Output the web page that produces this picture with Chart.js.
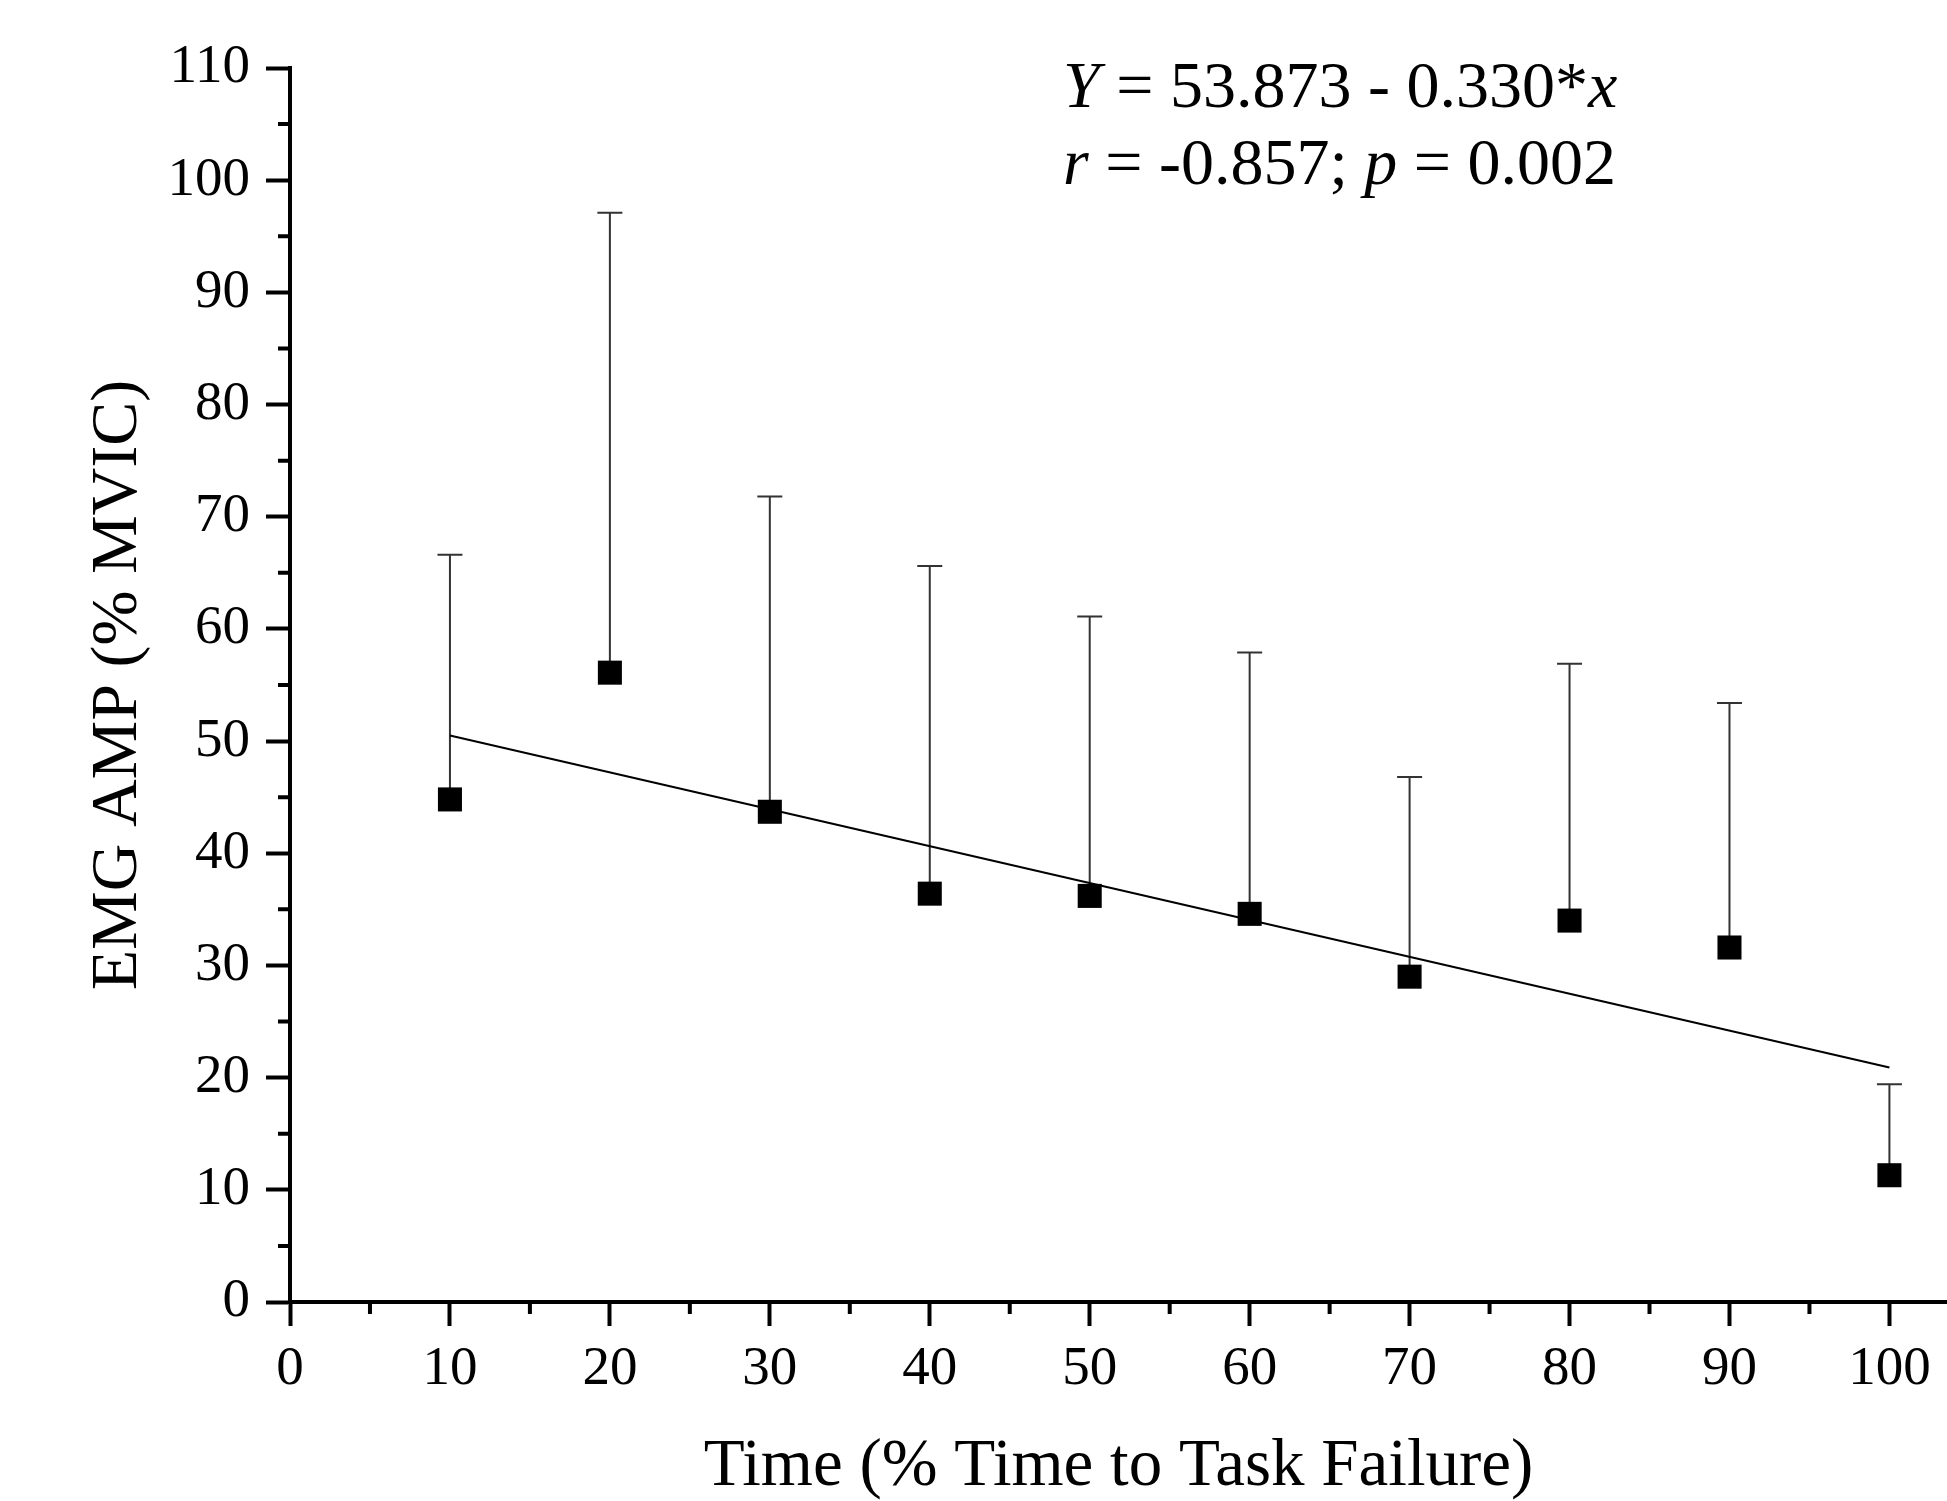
<!DOCTYPE html>
<html>
<head>
<meta charset="utf-8">
<script src="https://cdn.jsdelivr.net/npm/chart.js@4.4.1/dist/chart.umd.min.js"></script>
<style>
  html, body { margin: 0; padding: 0; background: #ffffff; overflow: hidden; }
  #wrap { width: 1947px; height: 1501px; overflow: hidden; }
  canvas { display: block; }
</style>
</head>
<body>
<div id="wrap"><canvas id="c" width="1964" height="1501"></canvas></div>
<script>
// ---- data ----
const timePoints   = [10, 20, 30, 40, 50, 60, 70, 80, 90, 100];
const emgMean      = [44.8, 56.1, 43.7, 36.4, 36.2, 34.6, 29.0, 34.0, 31.6, 11.3];
const emgUpperSD   = [66.6, 97.1, 71.8, 65.6, 61.1, 57.9, 46.8, 56.9, 53.4, 19.4];
const fitX         = [10, 100];
const fitY         = [50.5, 20.9];
const xTickValues  = [0, 10, 20, 30, 40, 50, 60, 70, 80, 90, 100];
const yTickValues  = [0, 10, 20, 30, 40, 50, 60, 70, 80, 90, 100, 110];
const xMinorValues = [5, 15, 25, 35, 45, 55, 65, 75, 85, 95];
const yMinorValues = [5, 15, 25, 35, 45, 55, 65, 75, 85, 95, 105];
const xTitle = 'Time (% Time to Task Failure)';
const yTitle = 'EMG AMP (% MVIC)';
const eqLine1 = [['Y', true], [' = 53.873 - 0.330*', false], ['x', true]];
const eqLine2 = [['r', true], [' = -0.857; ', false], ['p', true], [' = 0.002', false]];

const FONT = "'Liberation Serif', 'Times New Roman', serif";

const errorBarPlugin = {
  id: 'errorBars',
  beforeDatasetsDraw(chart) {
    const ctx = chart.ctx, xs = chart.scales.x, ys = chart.scales.y;
    ctx.save();
    ctx.strokeStyle = '#333333';
    ctx.lineWidth = 2;
    for (let i = 0; i < timePoints.length; i++) {
      const px = xs.getPixelForValue(timePoints[i]);
      const py0 = ys.getPixelForValue(emgMean[i]);
      const py1 = ys.getPixelForValue(emgUpperSD[i]);
      ctx.beginPath();
      ctx.moveTo(px, py0);
      ctx.lineTo(px, py1);
      ctx.moveTo(px - 12.5, py1);
      ctx.lineTo(px + 12.5, py1);
      ctx.stroke();
    }
    ctx.restore();
  }
};

const minorTickPlugin = {
  id: 'minorTicks',
  afterDraw(chart) {
    const ctx = chart.ctx, xs = chart.scales.x, ys = chart.scales.y;
    const ca = chart.chartArea;
    ctx.save();
    ctx.strokeStyle = '#000';
    ctx.lineWidth = 4;
    ctx.beginPath();
    xMinorValues.forEach(v => {
      const px = xs.getPixelForValue(v);
      ctx.moveTo(px, ca.bottom);
      ctx.lineTo(px, ca.bottom + 12);
    });
    yMinorValues.forEach(v => {
      const py = ys.getPixelForValue(v);
      ctx.moveTo(ca.left, py);
      ctx.lineTo(ca.left - 12, py);
    });
    ctx.stroke();
    ctx.restore();
  }
};

const equationPlugin = {
  id: 'equation',
  afterDraw(chart) {
    const ctx = chart.ctx;
    ctx.save();
    ctx.fillStyle = '#000';
    ctx.textBaseline = 'alphabetic';
    ctx.textAlign = 'left';
    const drawLine = (parts, x, y) => {
      parts.forEach(([t, it]) => {
        ctx.font = (it ? 'italic ' : '') + '66px ' + FONT;
        ctx.fillText(t, x, y);
        x += ctx.measureText(t).width;
      });
    };
    drawLine(eqLine1, 1063, 107);
    drawLine(eqLine2, 1063, 184);
    ctx.restore();
  }
};

const whiteBg = {
  id: 'whiteBg',
  beforeDraw(chart) {
    const ctx = chart.ctx;
    ctx.save();
    ctx.fillStyle = '#fff';
    ctx.fillRect(0, 0, chart.width, chart.height);
    ctx.restore();
  }
};

new Chart(document.getElementById('c'), {
  data: {
    datasets: [
      {
        type: 'scatter',
        data: timePoints.map((x, i) => ({ x: x, y: emgMean[i] })),
        pointStyle: 'rect',
        pointRadius: 17,
        backgroundColor: '#000',
        borderColor: '#000',
        borderWidth: 0,
        order: 1
      },
      {
        type: 'line',
        data: fitX.map((x, i) => ({ x: x, y: fitY[i] })),
        borderColor: '#000',
        borderWidth: 2,
        pointRadius: 0,
        fill: false,
        order: 2
      }
    ]
  },
  options: {
    responsive: false,
    animation: false,
    events: [],
    layout: { padding: { top: 68, right: 0, bottom: 0, left: 0 } },
    plugins: { legend: { display: false }, tooltip: { enabled: false } },
    scales: {
      x: {
        type: 'linear',
        min: 0,
        max: 103.6,
        afterBuildTicks(scale) { scale.ticks = xTickValues.map(v => ({ value: v })); },
        afterFit(scale) { scale.height = 199; },
        ticks: {
          includeBounds: false,
          color: '#000',
          padding: 11,
          maxRotation: 0,
          autoSkip: false,
          font: { family: FONT, size: 55 }
        },
        grid: {
          drawOnChartArea: false,
          drawTicks: true,
          tickLength: 24,
          tickWidth: 4,
          tickColor: '#000'
        },
        border: { display: true, color: '#000', width: 4 },
        title: {
          display: true,
          text: xTitle,
          color: '#000',
          font: { family: FONT, size: 67, lineHeight: 1.0 },
          padding: { top: 0, bottom: 0 }
        }
      },
      y: {
        type: 'linear',
        min: 0,
        max: 110,
        afterBuildTicks(scale) { scale.ticks = yTickValues.map(v => ({ value: v })); },
        afterFit(scale) { scale.width = 290; },
        ticks: {
          includeBounds: false,
          color: '#000',
          padding: 16,
          autoSkip: false,
          font: { family: FONT, size: 55 }
        },
        grid: {
          drawOnChartArea: false,
          drawTicks: true,
          tickLength: 24,
          tickWidth: 4,
          tickColor: '#000'
        },
        border: { display: true, color: '#000', width: 4 },
        title: {
          display: true,
          text: yTitle,
          color: '#000',
          font: { family: FONT, size: 66, lineHeight: 1.0 },
          padding: { top: 86, bottom: 0 }
        }
      }
    }
  },
  plugins: [whiteBg, errorBarPlugin, minorTickPlugin, equationPlugin]
});
</script>
</body>
</html>
